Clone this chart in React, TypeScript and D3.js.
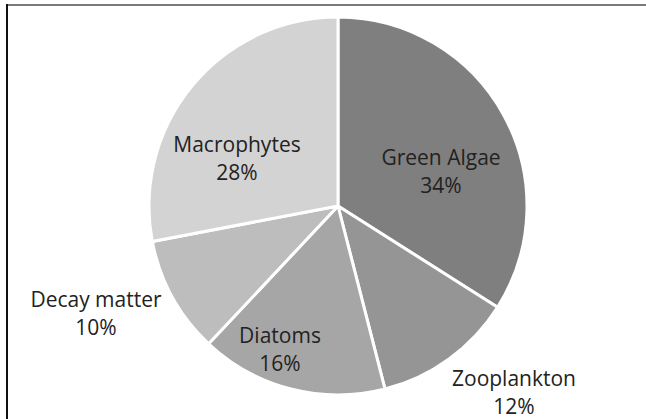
import React from "react";
import * as d3 from "d3";

const categories = ["Green Algae", "Zooplankton", "Diatoms", "Decay matter", "Macrophytes"];
const values = [34, 12, 16, 10, 28];
const colors = ["#7f7f7f", "#959595", "#a6a6a6", "#bdbdbd", "#d3d3d3"];
// label anchor positions (center x, first baseline y)
const labelPos: [number, number][] = [
  [441, 165],
  [514, 386],
  [280, 343],
  [96, 307],
  [237, 152],
];

const W = 646;
const H = 419;
const cx = 338;
const cy = 206;
const R = 189;

export default function App() {
  const pie = d3.pie<number>().sort(null).value((d) => d);
  const arcs = pie(values);
  const arc = d3.arc<d3.PieArcDatum<number>>().innerRadius(0).outerRadius(R);
  return (
    <svg
      width={W}
      height={H}
      style={{ position: "fixed", left: 0, top: 0, background: "#fff" }}
      fontFamily="'Open Sans', sans-serif"
    >
      <rect x={0} y={0} width={W} height={H} fill="#fff" />
      <line x1={6} y1={5} x2={W} y2={5} stroke="#7a7a7a" strokeWidth={2} />
      <line x1={7} y1={4} x2={7} y2={H} stroke="#111" strokeWidth={2} />
      <g transform={`translate(${cx},${cy})`}>
        {arcs.map((a, i) => (
          <path key={i} d={arc(a) || ""} fill={colors[i]} stroke="#fff" strokeWidth={3} strokeLinejoin="round" />
        ))}
      </g>
      {categories.map((c, i) => (
        <text key={c} textAnchor="middle" fontSize={21} fill="#222">
          <tspan x={labelPos[i][0]} y={labelPos[i][1]}>{c}</tspan>
          <tspan x={labelPos[i][0]} y={labelPos[i][1] + 28}>{values[i]}%</tspan>
        </text>
      ))}
    </svg>
  );
}
